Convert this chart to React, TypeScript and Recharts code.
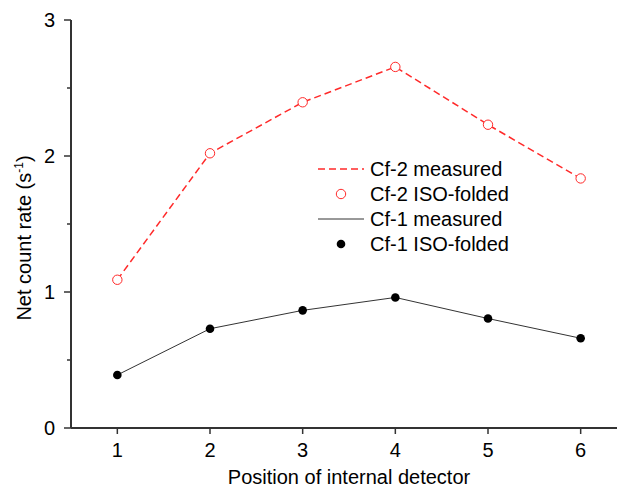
import React from 'react';
import { LineChart, Line, XAxis, YAxis, Legend } from 'recharts';

// detector positions and count rates (s^-1)
const positions = [1, 2, 3, 4, 5, 6];
const cf2Measured = [1.09, 2.02, 2.395, 2.655, 2.23, 1.835];
const cf2IsoFolded = [1.09, 2.02, 2.395, 2.655, 2.23, 1.835];
const cf1Measured = [0.39, 0.73, 0.865, 0.96, 0.805, 0.66];
const cf1IsoFolded = [0.39, 0.73, 0.865, 0.96, 0.805, 0.66];

const xTicks = [1, 2, 3, 4, 5, 6];
const yTicks = [0, 0.5, 1, 1.5, 2, 2.5, 3];
const seriesNames = ['Cf-2 measured', 'Cf-2 ISO-folded', 'Cf-1 measured', 'Cf-1 ISO-folded'];

const data = positions.map((p, i) => ({
    pos: p,
    cf2m: cf2Measured[i],
    cf2i: cf2IsoFolded[i],
    cf1m: cf1Measured[i],
    cf1i: cf1IsoFolded[i],
}));

const FONT = '"Liberation Sans", Arial, sans-serif';
const AXIS = '#333';
const RED = '#ff2a2a';

// y tick: label only on whole numbers, short tick on halves
const YTick = (props: any) => {
    const { x, y, payload } = props;
    const axisX = x + 16;
    const major = Number.isInteger(payload.value);
    return (
        <g>
            <line x1={axisX} x2={axisX - (major ? 7 : 4)} y1={y} y2={y} stroke={AXIS} strokeWidth={1.5} />
            {major && (
                <text x={x} y={y} dy={7} textAnchor="end" fontSize={20} fill="#000" fontFamily={FONT}>
                    {payload.value}
                </text>
            )}
        </g>
    );
};

const YLabel = (props: any) => {
    const { viewBox } = props;
    const cx = viewBox.x + 31;
    const cy = viewBox.y + viewBox.height / 2 + 14;
    return (
        <text x={cx} y={cy} transform={`rotate(-90, ${cx}, ${cy})`} textAnchor="middle" fontSize={20} fill="#000" fontFamily={FONT}>
            Net count rate (s
            <tspan dy={-8} fontSize={12}>-1</tspan>
            <tspan dy={8}>)</tspan>
        </text>
    );
};

const XLabel = (props: any) => {
    const { viewBox } = props;
    const cx = viewBox.x + viewBox.width / 2;
    return (
        <text x={cx} y={viewBox.y + 56} textAnchor="middle" fontSize={20} fill="#000" fontFamily={FONT}>
            Position of internal detector
        </text>
    );
};

const LegendBox = () => {
    const rowY = [12, 37, 62, 87];
    return (
        <svg width={240} height={100} style={{ display: 'block' }}>
            <line x1={0} x2={46} y1={rowY[0]} y2={rowY[0]} stroke={RED} strokeWidth={1.5} strokeDasharray="7 4" />
            <circle cx={23} cy={rowY[1]} r={4.7} fill="#fff" stroke={RED} strokeWidth={1} />
            <line x1={0} x2={46} y1={rowY[2]} y2={rowY[2]} stroke={AXIS} strokeWidth={1} />
            <circle cx={23} cy={rowY[3]} r={4.3} fill="#000" />
            {seriesNames.map((name, i) => (
                <text key={name} x={52} y={rowY[i] + 7} fontSize={20} fill="#000" fontFamily={FONT}>
                    {name}
                </text>
            ))}
        </svg>
    );
};

export default function App() {
    return (
        <div style={{ position: 'absolute', left: 0, top: 0, width: 617, height: 488, overflow: 'hidden', background: '#fff' }}>
            <LineChart
                width={640}
                height={488}
                data={data}
                margin={{ top: 20, right: 13, bottom: 30, left: 0 }}
                style={{ fontFamily: FONT }}
            >
                <XAxis
                    dataKey="pos"
                    type="number"
                    domain={[0.5, 6.5]}
                    ticks={xTicks}
                    height={30}
                    tickSize={6}
                    tickMargin={9}
                    axisLine={{ stroke: AXIS, strokeWidth: 2 }}
                    tickLine={{ stroke: AXIS, strokeWidth: 1.5 }}
                    tick={{ fill: '#000', fontSize: 20, fontFamily: FONT }}
                    label={<XLabel />}
                />
                <XAxis
                    xAxisId="top"
                    orientation="top"
                    dataKey="pos"
                    type="number"
                    domain={[0.5, 6.5]}
                    height={0}
                    tick={false}
                    tickLine={false}
                    axisLine={{ stroke: AXIS, strokeWidth: 2 }}
                />
                <YAxis
                    type="number"
                    domain={[0, 3]}
                    ticks={yTicks}
                    width={71}
                    tickSize={7}
                    tickMargin={9}
                    tickLine={false}
                    axisLine={{ stroke: AXIS, strokeWidth: 2 }}
                    tick={<YTick />}
                    interval={0}
                    label={<YLabel />}
                />
                <Legend
                    layout="horizontal"
                    verticalAlign="middle"
                    content={<LegendBox />}
                    wrapperStyle={{ left: 318, top: 157, width: 240 }}
                />
                <Line
                    dataKey="cf2m"
                    name={seriesNames[0]}
                    stroke={RED}
                    strokeWidth={1.5}
                    strokeDasharray="7 4"
                    dot={false}
                    activeDot={false}
                    isAnimationActive={false}
                />
                <Line
                    dataKey="cf2i"
                    name={seriesNames[1]}
                    stroke="none"
                    dot={{ r: 4.7, fill: '#fff', stroke: RED, strokeWidth: 1 }}
                    activeDot={false}
                    isAnimationActive={false}
                />
                <Line
                    dataKey="cf1m"
                    name={seriesNames[2]}
                    stroke={AXIS}
                    strokeWidth={1}
                    dot={false}
                    activeDot={false}
                    isAnimationActive={false}
                />
                <Line
                    dataKey="cf1i"
                    name={seriesNames[3]}
                    stroke="none"
                    dot={{ r: 4.3, fill: '#000', stroke: 'none' }}
                    activeDot={false}
                    isAnimationActive={false}
                />
            </LineChart>
        </div>
    );
}
